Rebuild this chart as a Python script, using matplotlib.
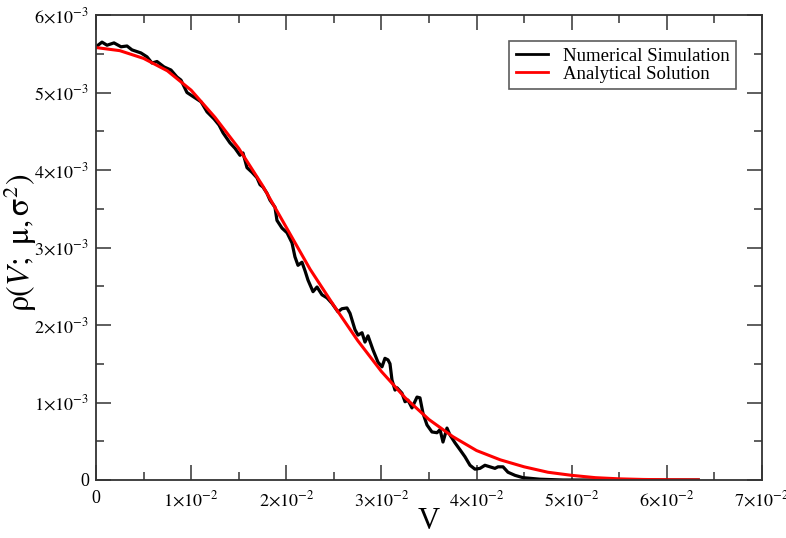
import matplotlib
matplotlib.use("Agg")
import matplotlib.pyplot as plt
from matplotlib.ticker import MultipleLocator

plt.rcParams['font.family'] = ['Liberation Serif', 'DejaVu Serif']
plt.rcParams['mathtext.fontset'] = 'stix'

# Analytical solution (red)
v_analytic = [0.0, 0.0025, 0.005, 0.0075, 0.010, 0.0125, 0.015, 0.0175, 0.020, 0.0225,
              0.025, 0.0275, 0.030, 0.0325, 0.035, 0.0375, 0.040, 0.0425, 0.045, 0.0475,
              0.050, 0.0525, 0.055, 0.0575, 0.060, 0.0633]
rho_analytic = [0.00558, 0.00554, 0.00544, 0.00528, 0.00503, 0.00468, 0.00428, 0.00380, 0.00326, 0.00272,
                0.00225, 0.00180, 0.00140, 0.00106, 0.00078, 0.00056, 0.00038, 0.00026, 0.00017, 0.00010,
                0.00006, 0.00003, 0.000015, 0.000007, 0.000003, 0.000001]

# Numerical simulation (black)
v_sim = [0.0, 0.00063, 0.00116, 0.00189, 0.00263, 0.00326, 0.00378, 0.00473, 0.00536, 0.00589,
         0.00641, 0.00715, 0.00788, 0.00851, 0.00893, 0.00956, 0.0103, 0.01104, 0.01167, 0.0124,
         0.01293, 0.01335, 0.01408, 0.01461, 0.01513, 0.01545, 0.01587, 0.0164, 0.01692, 0.01724,
         0.01755, 0.01797, 0.01829, 0.01881, 0.01902, 0.01955, 0.02008, 0.0206, 0.02091, 0.02123,
         0.02165, 0.02197, 0.02228, 0.02281, 0.02323, 0.02375, 0.02428, 0.0248, 0.02543, 0.02585,
         0.02638, 0.0267, 0.02722, 0.02754, 0.02796, 0.02827, 0.02859, 0.02911, 0.02964, 0.03006,
         0.03037, 0.03069, 0.0309, 0.03111, 0.03143, 0.03164, 0.03216, 0.03248, 0.03279, 0.03321,
         0.03374, 0.03405, 0.03437, 0.03479, 0.03531, 0.03584, 0.03616, 0.03647, 0.03689, 0.03721,
         0.03773, 0.03826, 0.03878, 0.03931, 0.03983, 0.04036, 0.04088, 0.04141, 0.04193, 0.04225,
         0.04278, 0.0433, 0.04404, 0.04488, 0.04667, 0.04908, 0.0633]
rho_sim = [0.00559, 0.00565, 0.00561, 0.00564, 0.00559, 0.00560, 0.00555, 0.00551, 0.00546, 0.00538,
           0.00540, 0.00533, 0.00529, 0.00520, 0.00516, 0.00500, 0.00494, 0.00488, 0.00475, 0.00466,
           0.00458, 0.00448, 0.00435, 0.00428, 0.00419, 0.00422, 0.00403, 0.00397, 0.00390, 0.00381,
           0.00378, 0.00370, 0.00361, 0.00352, 0.00335, 0.00325, 0.00319, 0.00306, 0.00288, 0.00277,
           0.00281, 0.00270, 0.00258, 0.00243, 0.00249, 0.00239, 0.00235, 0.00228, 0.00217, 0.00221,
           0.00222, 0.00215, 0.00194, 0.00187, 0.00190, 0.00178, 0.00186, 0.00168, 0.00152, 0.00146,
           0.00157, 0.00155, 0.00150, 0.00129, 0.00116, 0.00119, 0.00112, 0.00101, 0.00103, 0.00093,
           0.00107, 0.00106, 0.00086, 0.00071, 0.00062, 0.00061, 0.00065, 0.00049, 0.00067, 0.00058,
           0.00048, 0.00039, 0.00030, 0.00019, 0.00014, 0.00015, 0.00019, 0.00017, 0.00015, 0.00017,
           0.00017, 0.00010, 0.00006, 0.00003, 0.00001, 0.0, 0.0]

x_ticks = [0.0, 0.01, 0.02, 0.03, 0.04, 0.05, 0.06, 0.07]
x_tick_labels = ['0', r'$1{\times}10^{-2}$', r'$2{\times}10^{-2}$', r'$3{\times}10^{-2}$',
                 r'$4{\times}10^{-2}$', r'$5{\times}10^{-2}$', r'$6{\times}10^{-2}$', r'$7{\times}10^{-2}$']
y_ticks = [0.0, 0.001, 0.002, 0.003, 0.004, 0.005, 0.006]
y_tick_labels = ['0', r'$1{\times}10^{-3}$', r'$2{\times}10^{-3}$', r'$3{\times}10^{-3}$',
                 r'$4{\times}10^{-3}$', r'$5{\times}10^{-3}$', r'$6{\times}10^{-3}$']

fig = plt.figure(figsize=(7.86, 5.38), dpi=100)
ax = fig.add_axes([96/786, 1-480/538, (762-96)/786, (480-15)/538])

ax.plot(v_sim, rho_sim, color='black', lw=2.3, label='Numerical Simulation')
ax.plot(v_analytic, rho_analytic, color='#ff0000', lw=2.2, label='Analytical Solution')

ax.set_xlim(0, 0.07)
ax.set_ylim(0, 0.006)
ax.set_xticks(x_ticks)
ax.set_xticklabels(x_tick_labels)
ax.set_yticks(y_ticks)
ax.set_yticklabels(y_tick_labels)
ax.xaxis.set_minor_locator(MultipleLocator(0.005))
ax.yaxis.set_minor_locator(MultipleLocator(0.0005))
ax.tick_params(which='both', direction='in', top=True, right=True, labelsize=13, colors='#333333',
               labelcolor='black')
ax.tick_params(which='major', length=11, width=1.1)
ax.tick_params(which='minor', length=6, width=1.1)
ax.tick_params(axis='x', pad=7)
ax.tick_params(axis='y', pad=5)
for s in ax.spines.values():
    s.set_color('#333333')
    s.set_linewidth(1.3)

ax.set_xlabel('V', fontsize=22)
ax.xaxis.set_label_coords(0.5, -0.058)
ax.set_ylabel(r'$\mathrm{\rho}(V;\ \mathrm{\mu},\mathrm{\sigma}^2)$', fontsize=23)
ax.yaxis.set_label_coords(-0.086, 0.51)

leg = ax.legend(loc='upper right', bbox_to_anchor=(736/786, 1-41/538), bbox_transform=fig.transFigure,
                fontsize=13.5, frameon=True, fancybox=False, borderpad=0.35, handlelength=1.7,
                handletextpad=0.8, labelspacing=0.05, borderaxespad=0)
leg.get_frame().set_edgecolor('#333333')
leg.get_frame().set_linewidth(1.2)
for line in leg.get_lines():
    line.set_linewidth(2.0)

fig.savefig('out.png', dpi=100)
